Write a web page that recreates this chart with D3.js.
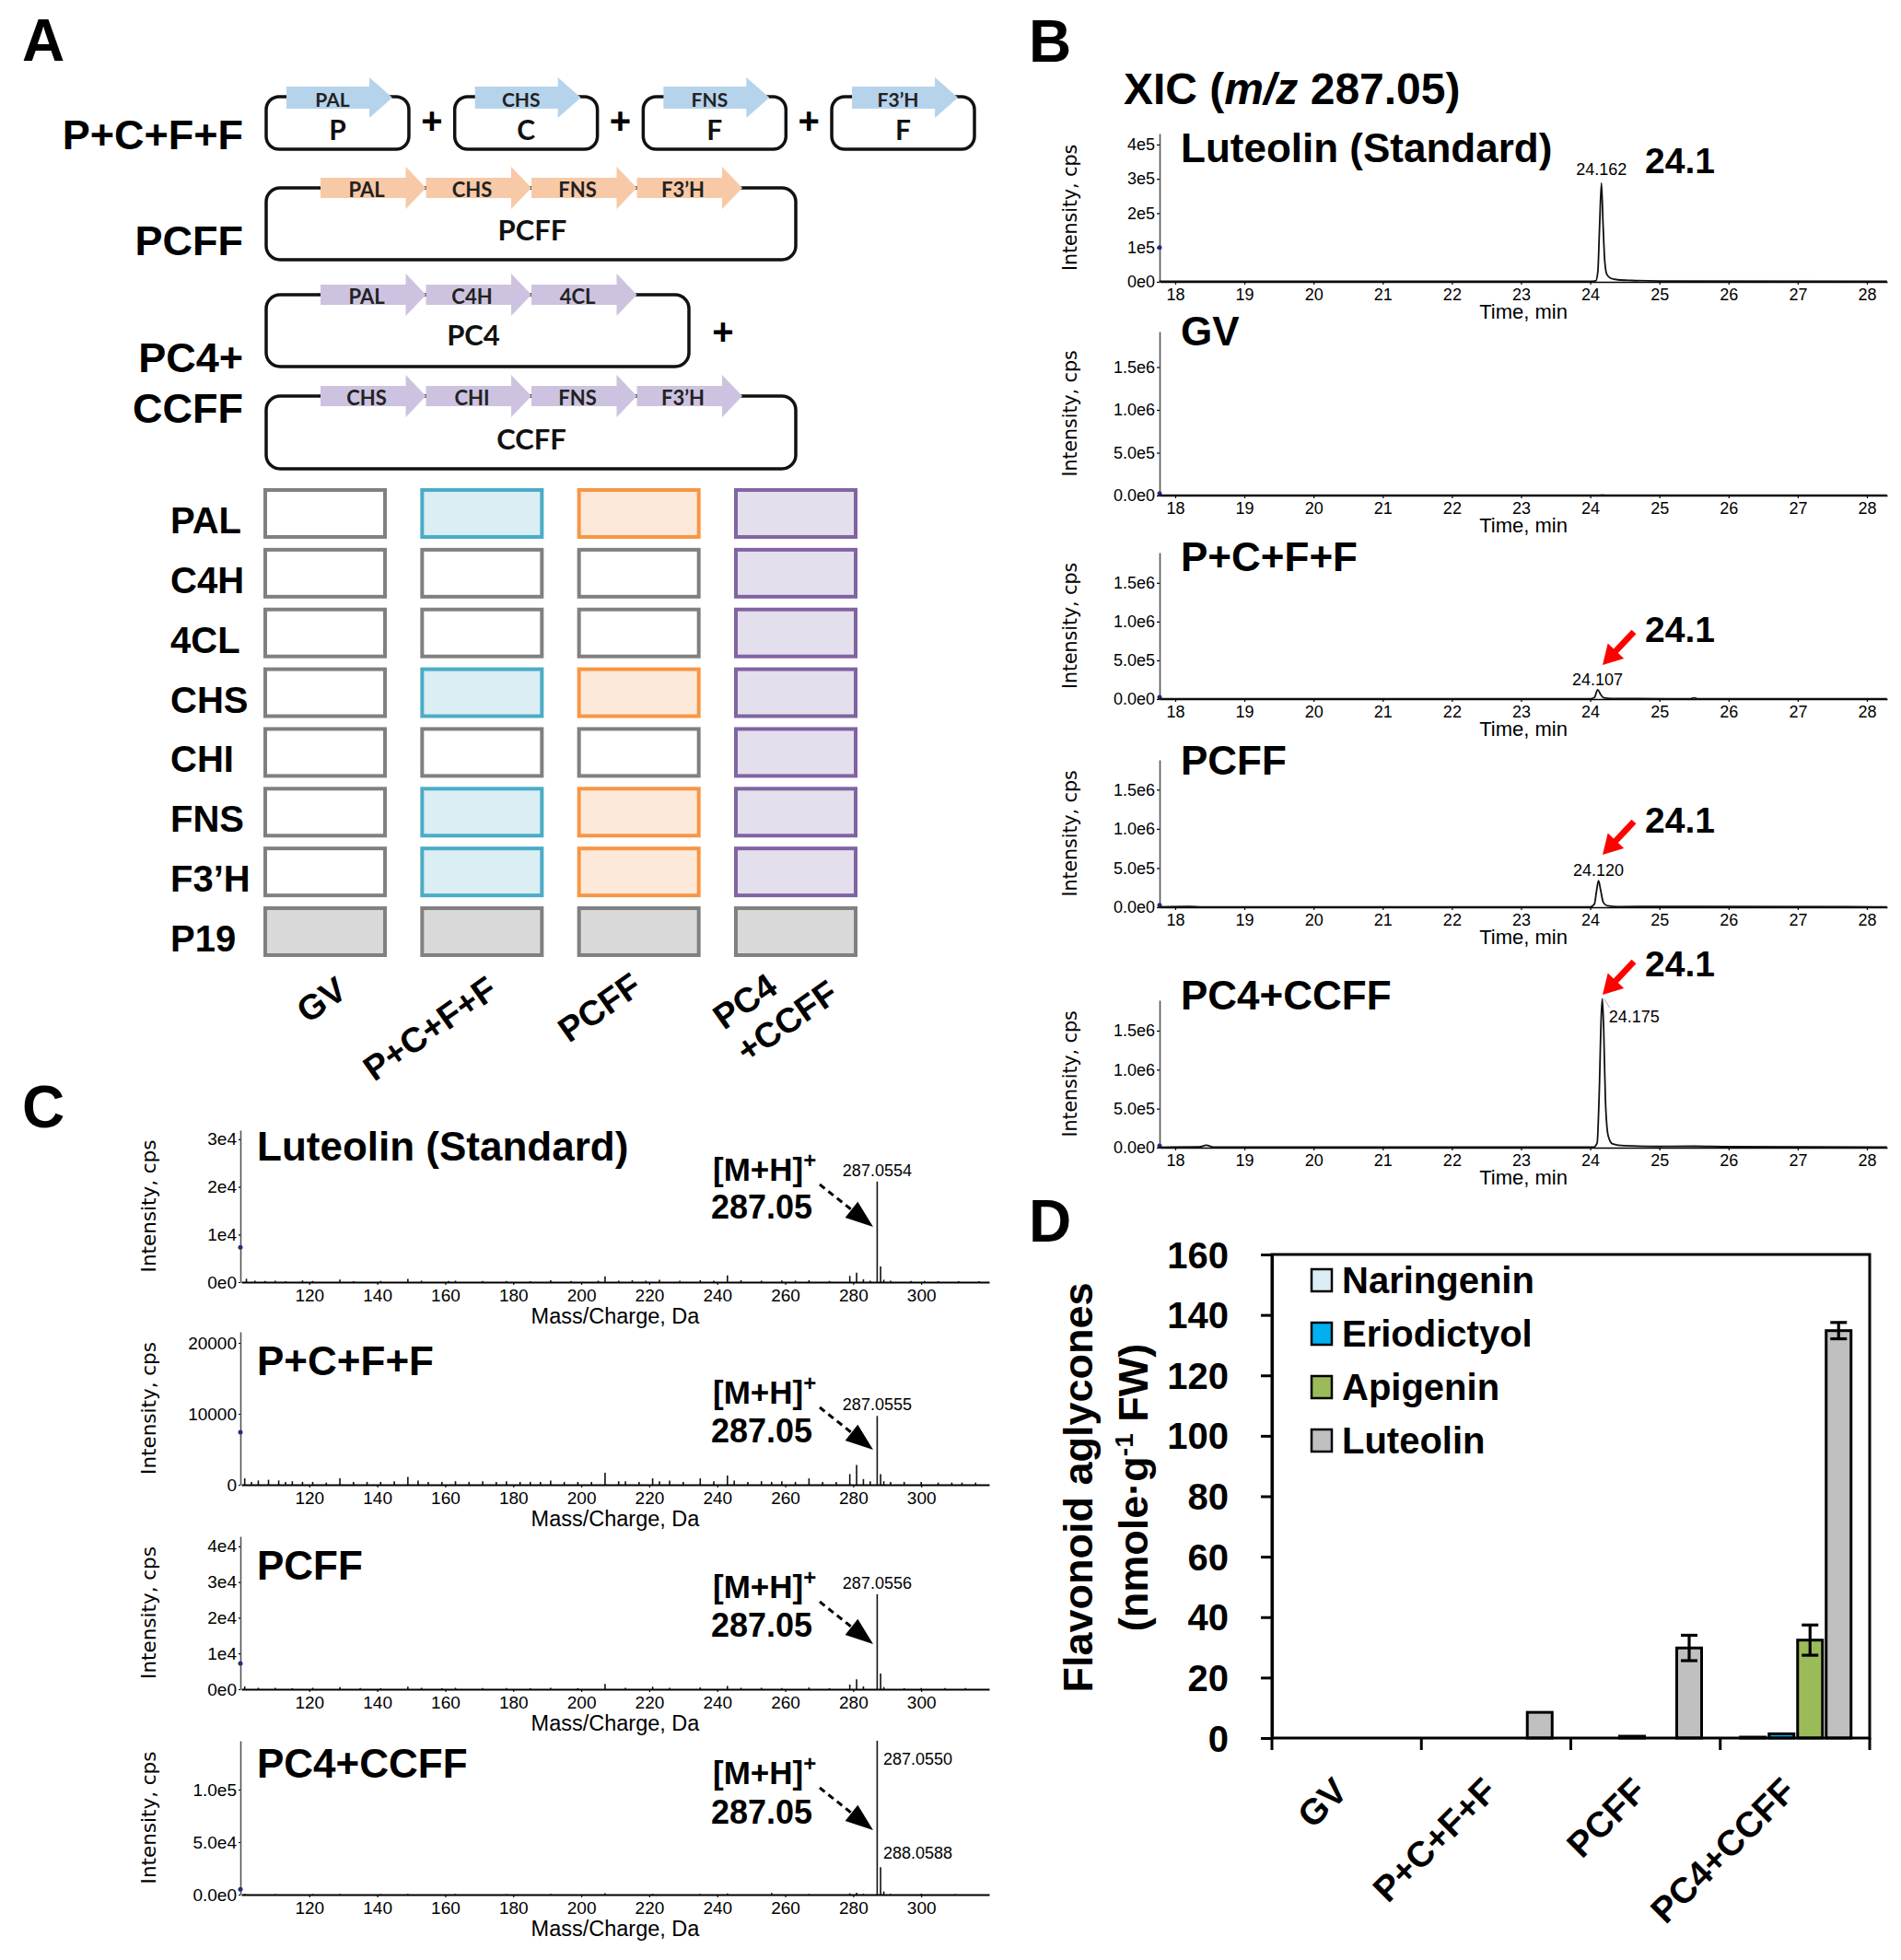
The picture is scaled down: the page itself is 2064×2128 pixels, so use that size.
<!DOCTYPE html>
<html><head><meta charset="utf-8">
<script src="https://cdn.jsdelivr.net/npm/d3@7/dist/d3.min.js"></script>
<style>html,body{margin:0;padding:0;background:#fff}svg{display:block}</style>
</head><body>
<svg id="fig" width="2064" height="2128" xmlns="http://www.w3.org/2000/svg"></svg>
<script>
// ================= DATA =================
// ---- Panel A ----
const splitGenes = ["PAL","CHS","FNS","F3’H"];
const splitLetters = ["P","C","F","F"];
const pcffGenes = ["PAL","CHS","FNS","F3’H"];
const pc4Genes = ["PAL","C4H","4CL"];
const ccffGenes = ["CHS","CHI","FNS","F3’H"];
const gridGenes = ["PAL","C4H","4CL","CHS","CHI","FNS","F3’H","P19"];
const gridConstructs = ["GV","P+C+F+F","PCFF","PC4\n+CCFF"];
// 0 = absent, 1 = present, 2 = P19 co-infiltration
const gridPresence = [
  [0,1,1,1],
  [0,0,0,1],
  [0,0,0,1],
  [0,1,1,1],
  [0,0,0,1],
  [0,1,1,1],
  [0,1,1,1],
  [2,2,2,2]
];

// ---- Panel B (XIC) ----
const xicTitles = ["Luteolin (Standard)","GV","P+C+F+F","PCFF","PC4+CCFF"];
const xicXTicks = [18,19,20,21,22,23,24,25,26,27,28];
const xicYMax = [4.32e5,1.914e6,1.89e6,1.88e6,1.89e6];
const xicYTicks = [
  [0,1e5,2e5,3e5,4e5],
  [0,5e5,1e6,1.5e6],
  [0,5e5,1e6,1.5e6],
  [0,5e5,1e6,1.5e6],
  [0,5e5,1e6,1.5e6]
];
const xicYTickLabels = [
  ["0e0","1e5","2e5","3e5","4e5"],
  ["0.0e0","5.0e5","1.0e6","1.5e6"],
  ["0.0e0","5.0e5","1.0e6","1.5e6"],
  ["0.0e0","5.0e5","1.0e6","1.5e6"],
  ["0.0e0","5.0e5","1.0e6","1.5e6"]
];
const xicMarker = [1e5, 2.5e4, 2.5e4, 2.5e4, 2.5e4];
const xicStd = [[17.77,1500],[24.0,1500],[24.08,3000],[24.11,30000],[24.135,160000],[24.162,288000],[24.185,170000],[24.21,60000],[24.24,22000],[24.3,10000],[24.4,6000],[24.6,4000],[25.0,2500],[28.29,1500]];
const xicGV = [[17.77,3000],[24.1,3500],[24.18,6000],[24.25,3500],[25.45,3000],[25.5,5000],[25.55,3000],[28.29,2500]];
const xicPCFFsplit = [[17.77,4000],[18.4,5000],[18.5,4000],[24.0,4000],[24.06,20000],[24.107,120000],[24.15,60000],[24.2,15000],[24.3,7000],[25.45,5000],[25.5,16000],[25.55,5000],[28.29,4000]];
const xicPCFF = [[17.77,5000],[18.2,9000],[18.4,5000],[24.0,5000],[24.06,40000],[24.09,200000],[24.12,340000],[24.15,220000],[24.19,60000],[24.25,18000],[24.4,8000],[25.5,10000],[28.29,4000]];
const xicPC4CCFF = [[17.77,5000],[18.35,9000],[18.45,30000],[18.55,8000],[24.05,6000],[24.1,60000],[24.13,700000],[24.16,1700000],[24.175,1910000],[24.195,1500000],[24.22,600000],[24.26,150000],[24.32,50000],[24.5,25000],[25.0,15000],[25.5,18000],[26.0,12000],[28.29,8000]];
const xicTraces = [xicStd, xicGV, xicPCFFsplit, xicPCFF, xicPC4CCFF];
const xicPeakLabels = ["24.162", null, "24.107", "24.120", "24.175"];
const xicPeakTimes = [24.162, null, 24.107, 24.120, 24.175];
const xicCallouts = ["24.1", null, "24.1", "24.1", "24.1"];

// ---- Panel C (MS spectra) ----
const msTitles = ["Luteolin (Standard)","P+C+F+F","PCFF","PC4+CCFF"];
const msXTicks = [120,140,160,180,200,220,240,260,280,300];
const msYMax = [3.19e4, 2.156e4, 4.28e4, 1.465e5];
const msYTicks = [[0,1e4,2e4,3e4],[0,1e4,2e4],[0,1e4,2e4,3e4,4e4],[0,5e4,1e5]];
const msYTickLabels = [["0e0","1e4","2e4","3e4"],["0","10000","20000"],["0e0","1e4","2e4","3e4","4e4"],["0.0e0","5.0e4","1.0e5"]];
const msMarker = [7300, 7400, 7200, 5000];
const specStd = [[101.5,700],[104,300],[107,250],[110,300],[113,200],[118,350],[121,250],[129,550],[133,200],[141,250],[149,700],[153,300],[161,250],[163,300],[171,250],[178,250],[185,200],[191,400],[197,250],[205,300],[207,1200],[211,300],[215,400],[219,300],[223,500],[229,300],[235,400],[239,300],[243,1400],[247,400],[253,300],[259,350],[263,300],[267,400],[273,250],[279,1300],[281,2000],[283,600],[285,300],[287.0554,21100],[288.06,3300],[289,500],[291,300],[297,250],[301,250],[305,200],[311,200],[317,200]];
const specSplit = [[101,900],[103,400],[105,600],[108,700],[111,600],[113,400],[115,500],[118,400],[121,400],[125,300],[129,900],[133,400],[137,400],[141,400],[145,500],[149,1100],[152,600],[155,400],[159,400],[163,500],[167,400],[171,500],[175,400],[178,500],[182,400],[185,400],[188,400],[191,600],[195,400],[199,400],[203,400],[207,1700],[211,500],[213,500],[217,400],[221,900],[223,500],[226,600],[230,400],[235,900],[239,500],[243,1300],[245,600],[249,400],[253,500],[256,400],[259,500],[263,400],[267,900],[271,400],[275,400],[279,1500],[281,2800],[283,800],[285,500],[287.0555,9700],[288.06,1500],[289,500],[291,400],[295,400],[300,400],[305,300],[309,300],[312,300],[316,300]];
const specPCFF = [[101,800],[105,400],[110,400],[115,300],[121,400],[129,600],[135,300],[141,300],[149,700],[153,400],[159,300],[163,400],[171,300],[178,300],[185,300],[191,400],[199,300],[207,1500],[213,400],[221,700],[226,400],[235,500],[243,900],[247,400],[253,400],[259,300],[267,500],[273,300],[279,1300],[281,2800],[283,800],[287.0556,26600],[288.06,4400],[289,600],[295,300],[300,300],[307,300],[313,300]];
const specPC4 = [[101,700],[110,500],[121,500],[129,600],[141,500],[149,700],[163,600],[178,500],[191,600],[207,1300],[221,700],[235,600],[243,1000],[256,1600],[267,600],[279,1200],[281,1800],[283,900],[287.055,146500],[288.0588,26000],[289,3000],[291,600],[300,800],[310,500]];
const msSpectra = [specStd, specSplit, specPCFF, specPC4];
const msPeakLabels = [["287.0554"],["287.0555"],["287.0556"],["287.0550","288.0588"]];
const msPeakMz = [[287.0554],[287.0555],[287.0556],[287.055,288.0588]];

// ---- Panel D (bar chart) ----
const dGroups = ["GV","P+C+F+F","PCFF","PC4+CCFF"];
const dSeries = ["Naringenin","Eriodictyol","Apigenin","Luteolin"];
const dColors = ["#dbeef4","#00b0f0","#9bbb59","#c0c0c0"];
const naringenin = [0, 0, 0, 0.3];
const naringeninErr = [0, 0, 0, 0.1];
const eriodictyol = [0, 0, 0.6, 1.4];
const eriodictyolErr = [0, 0, 0.2, 0.5];
const apigenin = [0, 0, 0, 32.4];
const apigeninErr = [0, 0, 0, 5.0];
const luteolin = [0, 8.5, 29.8, 134.8];
const luteolinErr = [0, 0.3, 4.2, 2.7];
const dYTicks = [0,20,40,60,80,100,120,140,160];

// ================= DRAWING =================
const svg = d3.select("#fig");
svg.append("rect").attr("width",2064).attr("height",2128).attr("fill","#fff");
const SANS = "'Liberation Sans', Arial, Helvetica, sans-serif";
const WIDE = "'DejaVu Sans', Verdana, sans-serif";
const SOFT = "Lato, 'Open Sans', 'Liberation Sans', sans-serif";

function T(g, x, y, s, size, weight, anchor, family){
  return g.append("text").attr("x",x).attr("y",y)
    .attr("font-size",size).attr("font-weight",weight||"normal")
    .attr("text-anchor",anchor||"start").attr("font-family",family||SANS)
    .attr("fill","#000").text(s);
}
function geneArrowPath(x0, tip, cy, bodyHalf, headHalf, headLen){
  const hs = tip - headLen;
  return `M${x0},${cy-bodyHalf}L${hs},${cy-bodyHalf}L${hs},${cy-headHalf}L${tip},${cy}L${hs},${cy+headHalf}L${hs},${cy+bodyHalf}L${x0},${cy+bodyHalf}Z`;
}

// ---------- Panel A ----------
const gA = svg.append("g");
T(gA, 24, 66, "A", 64, "bold");
T(gA, 264, 162, "P+C+F+F", 45, "bold", "end");
T(gA, 264, 277, "PCFF", 45, "bold", "end");
T(gA, 264, 404, "PC4+", 45, "bold", "end");
T(gA, 264, 459, "CCFF", 45, "bold", "end");

const BLUE_ARROW = "#b6d3ec", ORANGE_ARROW = "#f8c9a7", PURPLE_ARROW = "#cdc3e0";
const smallX = d3.scaleBand().domain(d3.range(splitGenes.length)).range([289,1058]).paddingInner(0.243);
splitGenes.forEach((gname, i) => {
  const bx = smallX(i), bw = smallX.bandwidth();
  gA.append("rect").attr("x",bx).attr("y",105).attr("width",bw).attr("height",57)
    .attr("rx",14).attr("fill","#fff").attr("stroke","#111").attr("stroke-width",3.5);
  gA.append("path").attr("d", geneArrowPath(bx+22, bx+137, 106, 12, 22, 25)).attr("fill", BLUE_ARROW);
  T(gA, bx+72, 107, gname, 21, "bold", "middle", SOFT).attr("dominant-baseline","central").attr("fill","#222");
  T(gA, bx+bw/2, 152, splitLetters[i], 30, "bold", "middle", SOFT).attr("fill","#111");
  if (i < splitGenes.length-1) {
    const step = smallX.step();
    T(gA, bx + bw + (step-bw)/2, 145, "+", 40, "bold", "middle");
  }
});

function drawPlasmid(x0, x1, y0, y1, genes, color, label, lx, ly){
  gA.append("rect").attr("x",x0).attr("y",y0).attr("width",x1-x0).attr("height",y1-y0)
    .attr("rx",15).attr("fill","#fff").attr("stroke","#111").attr("stroke-width",3.5);
  const ax = d3.scaleBand().domain(genes).range([348, 348 + 114.5*genes.length]);
  genes.forEach(gn => {
    const s = ax(gn);
    gA.append("path").attr("d", geneArrowPath(s, s+ax.bandwidth(), y0, 11, 23, 22)).attr("fill", color);
    T(gA, s+50, y0+1, gn, 22, "bold", "middle", SOFT).attr("dominant-baseline","central").attr("fill","#222");
  });
  T(gA, lx, ly, label, 31, "bold", "middle", SOFT).attr("fill","#111");
}
drawPlasmid(289, 864, 204, 282, pcffGenes, ORANGE_ARROW, "PCFF", 578, 261);
drawPlasmid(289, 748, 320, 398, pc4Genes, PURPLE_ARROW, "PC4", 514, 375);
T(gA, 785, 374, "+", 40, "bold", "middle");
drawPlasmid(289, 864, 430, 509, ccffGenes, PURPLE_ARROW, "CCFF", 577, 488);

const gridRows = d3.scaleBand().domain(gridGenes).range([532,1037]).paddingInner(0.2142);
const gridCols = d3.scaleBand().domain(gridConstructs).range([288,929]).paddingInner(0.2367);
const colStroke = ["#808080","#4bacc6","#f79646","#8064a2"];
const colFill = ["#ffffff","#daeef3","#fde9d9","#e4dfec"];
gridGenes.forEach((gn, r) => {
  T(gA, 185, gridRows(gn)+47, gn, 40, "bold", "start");
  gridConstructs.forEach((c, k) => {
    const v = gridPresence[r][k];
    const fill = v === 2 ? "#d9d9d9" : (v === 1 ? colFill[k] : "#ffffff");
    const stroke = v === 1 ? colStroke[k] : "#808080";
    gA.append("rect").attr("x", gridCols(c)).attr("y", gridRows(gn))
      .attr("width", gridCols.bandwidth()).attr("height", gridRows.bandwidth())
      .attr("fill", fill).attr("stroke", stroke).attr("stroke-width", 4);
  });
});
const colLabelDx = [-19, -117, -76, -78];
const colLabelY = [1112, 1175, 1133, 1119];
gridConstructs.forEach((c, k) => {
  const cx = gridCols(c) + gridCols.bandwidth()/2 + colLabelDx[k];
  const t = gA.append("text").attr("transform", `translate(${cx},${colLabelY[k]}) rotate(-35)`)
    .attr("font-size", 38).attr("font-weight","bold").attr("font-family", SANS);
  c.split("\n").forEach((line, li) => {
    t.append("tspan").attr("x", 0).attr("y", li*44).text(line);
  });
});

// ---------- Panel B ----------
const gB = svg.append("g");
T(gB, 1117, 67, "B", 64, "bold");
const xt = T(gB, 1220, 113, "", 48, "bold");
xt.append("tspan").text("XIC (");
xt.append("tspan").attr("font-style","italic").text("m/z");
xt.append("tspan").text(" 287.05)");

const xicZero = [306, 538, 759, 985, 1246];
const xicTop = [145, 360, 600, 825, 1086];
const xicTitleY = [176, 375, 620, 841, 1096];
const xicCalloutY = [188, null, 697, 904, 1060];
const xicArrowStartY = [null, null, 686, 892, 1044];

function styleAxis(g, size){
  g.attr("font-family", SANS).attr("font-size", size);
  g.selectAll("text").attr("fill","#000");
  g.select(".domain").attr("stroke","#000").attr("stroke-width",1.6);
  g.selectAll(".tick line").attr("stroke","#000").attr("stroke-width",1.2);
}
function redArrow(g, x1, y1, x2, y2){
  const L = Math.hypot(x2-x1, y2-y1), ang = Math.atan2(y2-y1, x2-x1)*180/Math.PI;
  const hl = 21, hw = 12, sw = 3.4;
  g.append("path").attr("transform", `translate(${x1},${y1}) rotate(${ang})`)
    .attr("d", `M0,${-sw}L${L-hl},${-sw}L${L-hl},${-hw}L${L},0L${L-hl},${hw}L${L-hl},${sw}L0,${sw}Z`)
    .attr("fill", "#ff0000");
}

const xB = d3.scaleLinear().domain([17.774, 28.293]).range([1259, 2049]);
xicTitles.forEach((title, i) => {
  const y = d3.scaleLinear().domain([0, xicYMax[i]]).range([xicZero[i], xicTop[i]]);
  const g = gB.append("g");
  const ax = g.append("g").attr("transform", `translate(0,${xicZero[i]})`)
    .call(d3.axisBottom(xB).tickValues(xicXTicks).tickFormat(d3.format("d")).tickSize(3).tickPadding(4).tickSizeOuter(0));
  styleAxis(ax, 18);
  const ay = g.append("g").attr("transform", `translate(1259,0)`)
    .call(d3.axisLeft(y).tickValues(xicYTicks[i]).tickFormat((d, j) => xicYTickLabels[i][j]).tickSize(3).tickPadding(2).tickSizeOuter(0));
  styleAxis(ay, 18);
  ay.select(".domain").attr("stroke","#555");
  g.append("circle").attr("cx",1259).attr("cy",y(xicMarker[i])).attr("r",2.5).attr("fill","#2a2a7a");
  g.append("path").datum(xicTraces[i])
    .attr("d", d3.line().x(d => xB(d[0])).y(d => y(d[1])).curve(d3.curveMonotoneX))
    .attr("fill","none").attr("stroke","#111").attr("stroke-width",1.8);
  g.append("text").attr("transform", `translate(1162,${(xicTop[i]+xicZero[i])/2}) rotate(-90)`)
    .attr("text-anchor","middle").attr("dominant-baseline","central")
    .attr("font-family", WIDE).attr("font-size", 20.5).attr("fill","#000").text("Intensity, cps");
  T(g, (1259+2049)/2, xicZero[i]+40, "Time, min", 22, "normal", "middle");
  T(g, 1282, xicTitleY[i], title, 44, "bold", "start");
  if (xicPeakLabels[i]) {
    const pt = xicPeakTimes[i];
    const peakTop = y(d3.max(xicTraces[i], d => d[1]));
    if (i === 4) {
      g.append("line").attr("x1", xB(pt)+2).attr("y1", peakTop).attr("x2", xB(pt)+8).attr("y2", peakTop+10)
        .attr("stroke","#aaa").attr("stroke-width",1);
      T(g, xB(pt)+7, 1110, xicPeakLabels[i], 18, "normal", "start");
    } else {
      T(g, xB(pt), peakTop - (i === 0 ? 9 : 5), xicPeakLabels[i], 18, "normal", "middle");
    }
  }
  if (xicCallouts[i]) T(g, 1786, xicCalloutY[i], xicCallouts[i], 39, "bold", "start");
  if (xicArrowStartY[i]) redArrow(g, 1774, xicArrowStartY[i], 1740, xicArrowStartY[i]+36);
});

// ---------- Panel C ----------
const gC = svg.append("g");
T(gC, 24, 1224, "C", 64, "bold");
const msZero = [1392, 1612, 1834, 2057];
const msTop = [1227, 1446, 1668, 1890];
const msTitleY = [1260, 1493, 1715, 1930];
const msMHY = [1282, 1524, 1735, 1937];
const ms287Y = [1323, 1566, 1777, 1980];
const xC = d3.scaleLinear().domain([100, 320]).range([262, 1074]);

function dashedArrow(g, x1, y1, x2, y2){
  const L = Math.hypot(x2-x1, y2-y1), ang = Math.atan2(y2-y1, x2-x1)*180/Math.PI;
  const hl = 30, hw = 11;
  const a = g.append("g").attr("transform", `translate(${x1},${y1}) rotate(${ang})`);
  a.append("line").attr("x1",0).attr("y1",0).attr("x2",L-hl+2).attr("y2",0)
    .attr("stroke","#000").attr("stroke-width",3).attr("stroke-dasharray","7,5");
  a.append("path").attr("d", `M${L-hl},${-hw}L${L},0L${L-hl},${hw}Z`).attr("fill","#000");
}

msTitles.forEach((title, i) => {
  const y = d3.scaleLinear().domain([0, msYMax[i]]).range([msZero[i], msTop[i]]);
  const g = gC.append("g");
  g.append("g").selectAll("line").data(msSpectra[i]).join("line")
    .attr("x1", d => xC(d[0])).attr("x2", d => xC(d[0]))
    .attr("y1", msZero[i]).attr("y2", d => y(Math.min(d[1], msYMax[i])))
    .attr("stroke","#111").attr("stroke-width",1.6);
  const ax = g.append("g").attr("transform", `translate(0,${msZero[i]})`)
    .call(d3.axisBottom(xC).tickValues(msXTicks).tickFormat(d3.format("d")).tickSize(3).tickPadding(5).tickSizeOuter(0));
  styleAxis(ax, 19);
  ax.select(".domain").attr("stroke-width", 2.2);
  const ay = g.append("g").attr("transform", `translate(261,0)`)
    .call(d3.axisLeft(y).tickValues(msYTicks[i]).tickFormat((d, j) => msYTickLabels[i][j]).tickSize(2).tickPadding(2).tickSizeOuter(0));
  styleAxis(ay, 19);
  ay.select(".domain").attr("stroke","#555");
  g.append("circle").attr("cx",261).attr("cy",y(msMarker[i])).attr("r",2.5).attr("fill","#2a2a7a");
  g.append("text").attr("transform", `translate(161,${(msTop[i]+msZero[i])/2}) rotate(-90)`)
    .attr("text-anchor","middle").attr("dominant-baseline","central")
    .attr("font-family", WIDE).attr("font-size", 21.5).attr("fill","#000").text("Intensity, cps");
  T(g, (261+1075)/2, msZero[i]+45, "Mass/Charge, Da", 23.5, "normal", "middle");
  T(g, 279, msTitleY[i], title, 44, "bold", "start");
  const mh = T(g, 774, msMHY[i], "[M+H]", 35, "bold", "start");
  mh.append("tspan").attr("dy", -14).attr("font-size", 24).text("+");
  T(g, 772, ms287Y[i], "287.05", 36, "bold", "start");
  dashedArrow(g, 890, msMHY[i]+4, 948, msMHY[i]+50);
  msPeakLabels[i].forEach((lab, j) => {
    const mz = msPeakMz[i][j];
    if (i === 3) {
      T(g, 959, j === 0 ? 1916 : 2018, lab, 18, "normal", "start");
    } else {
      const h = d3.max(msSpectra[i].filter(d => Math.abs(d[0]-mz) < 0.01), d => d[1]);
      T(g, xC(mz), y(h) - 6, lab, 18, "normal", "middle");
    }
  });
});

// ---------- Panel D ----------
const gD = svg.append("g");
T(gD, 1117, 1348, "D", 64, "bold");
const xD = d3.scaleBand().domain(dGroups).range([1381, 2030]);
const xInner = d3.scaleBand().domain(dSeries).range([22, 142]).paddingInner(4/31);
const yD = d3.scaleLinear().domain([0, 160]).range([1887, 1362]);
const dValues = [naringenin, eriodictyol, apigenin, luteolin];
const dErrors = [naringeninErr, eriodictyolErr, apigeninErr, luteolinErr];

dSeries.forEach((s, si) => {
  const rows = dGroups.map((gname, gi) => ({g: gname, v: dValues[si][gi], e: dErrors[si][gi]})).filter(d => d.v > 0);
  gD.append("g").selectAll("rect").data(rows).join("rect")
    .attr("x", d => xD(d.g) + xInner(s)).attr("width", xInner.bandwidth())
    .attr("y", d => yD(d.v)).attr("height", d => yD(0) - yD(d.v))
    .attr("fill", dColors[si]).attr("stroke", "#000").attr("stroke-width", 3);
  const eg = gD.append("g").attr("stroke","#000").attr("stroke-width",3.2);
  rows.filter(d => d.e > 0.5).forEach(d => {
    const cx = xD(d.g) + xInner(s) + xInner.bandwidth()/2;
    eg.append("line").attr("x1",cx).attr("x2",cx).attr("y1",yD(d.v+d.e)).attr("y2",yD(d.v-d.e));
    eg.append("line").attr("x1",cx-9).attr("x2",cx+9).attr("y1",yD(d.v+d.e)).attr("y2",yD(d.v+d.e));
    eg.append("line").attr("x1",cx-9).attr("x2",cx+9).attr("y1",yD(d.v-d.e)).attr("y2",yD(d.v-d.e));
  });
});
gD.append("rect").attr("x",1381).attr("y",1362).attr("width",2030-1381).attr("height",1887-1362)
  .attr("fill","none").attr("stroke","#000").attr("stroke-width",3);
const ayD = gD.append("g").attr("transform","translate(1381,0)")
  .call(d3.axisLeft(yD).tickValues(dYTicks).tickFormat(d3.format("d")).tickSize(12).tickPadding(35).tickSizeOuter(0));
ayD.attr("font-family", SANS).attr("font-size", 40).attr("font-weight","bold");
ayD.select(".domain").attr("stroke","#000").attr("stroke-width",3);
ayD.selectAll(".tick line").attr("stroke","#000").attr("stroke-width",3);
ayD.selectAll(".tick text").attr("fill","#000").attr("dy","0.35em");
const bounds = dGroups.map(gname => xD(gname)).concat([xD(dGroups[dGroups.length-1]) + xD.bandwidth()]);
gD.append("g").selectAll("line").data(bounds).join("line")
  .attr("x1", d => d).attr("x2", d => d).attr("y1", 1887).attr("y2", 1900)
  .attr("stroke","#000").attr("stroke-width",3);
dGroups.forEach(gname => {
  gD.append("text").attr("transform", `translate(${xD(gname)+xD.bandwidth()/2+3},1947) rotate(-45)`)
    .attr("text-anchor","end").attr("font-family",SANS).attr("font-size",39).attr("font-weight","bold")
    .attr("fill","#000").text(gname);
});
gD.append("text").attr("transform","translate(1186,1615) rotate(-90)")
  .attr("text-anchor","middle").attr("font-family",SANS).attr("font-size",45).attr("font-weight","bold")
  .text("Flavonoid aglycones");
const yt2 = gD.append("text").attr("transform","translate(1246,1615) rotate(-90)")
  .attr("text-anchor","middle").attr("font-family",SANS).attr("font-size",45).attr("font-weight","bold");
yt2.append("tspan").text("(nmole·g");
yt2.append("tspan").attr("dy",-16).attr("font-size",28).text("-1");
yt2.append("tspan").attr("dy",16).text(" FW)");
dSeries.forEach((s, si) => {
  const cy = 1390 + si*58;
  gD.append("rect").attr("x",1424).attr("y",cy-12).attr("width",22).attr("height",24)
    .attr("fill",dColors[si]).attr("stroke","#000").attr("stroke-width",2.5);
  T(gD, 1457, cy+14, s, 40, "bold", "start");
});
</script>
</body></html>
